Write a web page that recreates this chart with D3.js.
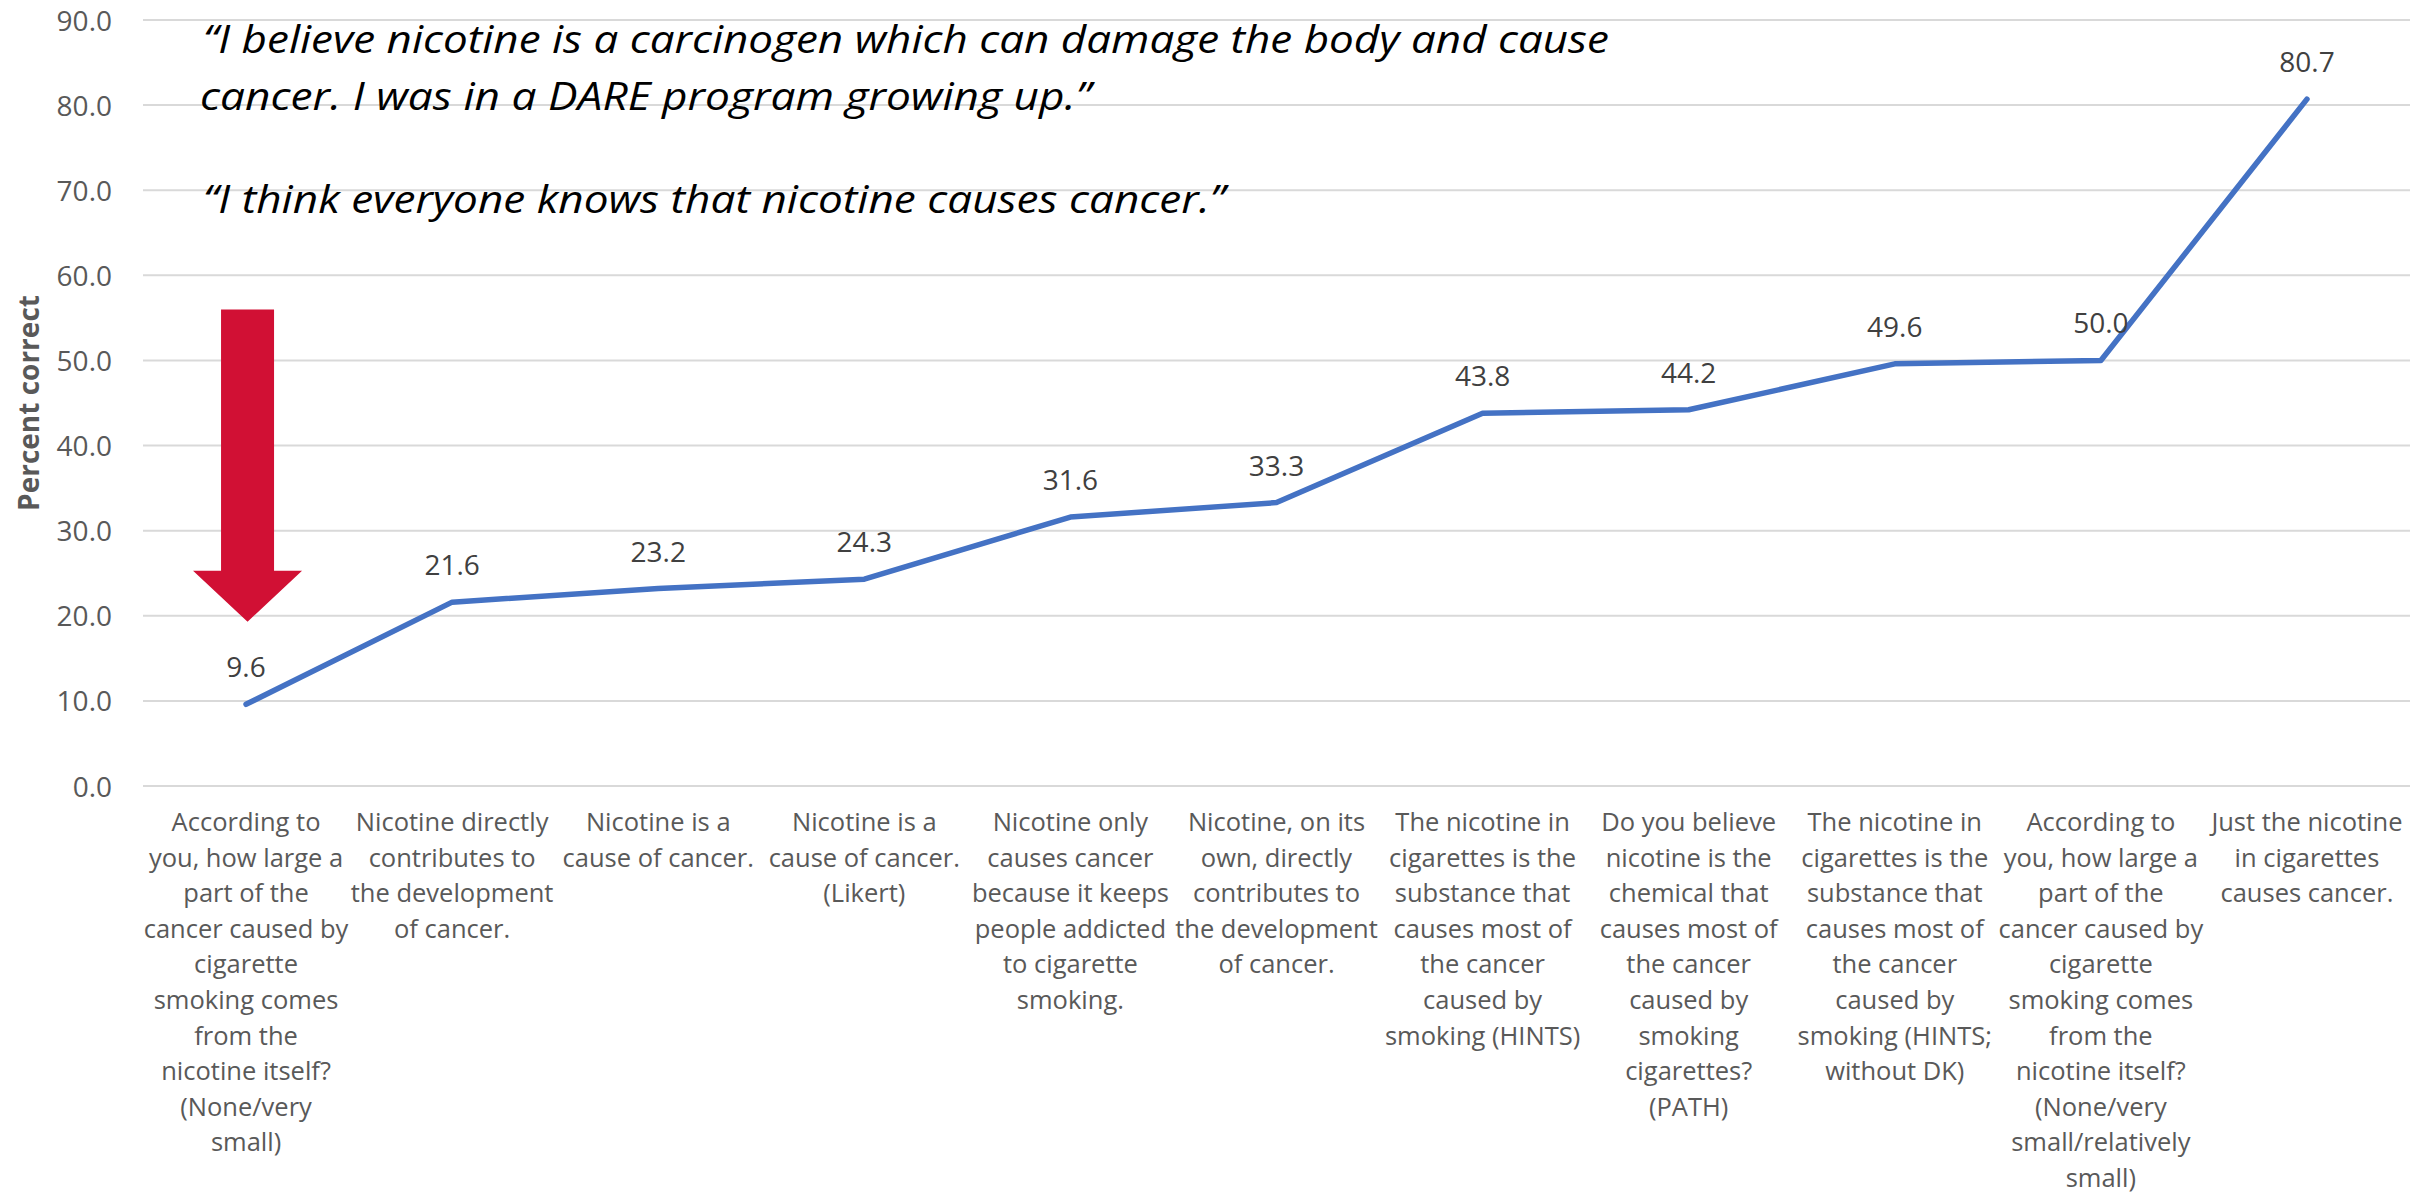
<!DOCTYPE html>
<html>
<head>
<meta charset="utf-8">
<script src="https://cdn.jsdelivr.net/npm/d3@7"></script>
<style>
  html, body { margin: 0; padding: 0; background: #ffffff; }
  svg { display: block; }
</style>
</head>
<body>
<svg id="chart" width="2432" height="1196"></svg>
<script>
// Survey items (wrapped as printed under the axis)
const categories = [
  ["According to", "you, how large a", "part of the", "cancer caused by", "cigarette", "smoking comes", "from the", "nicotine itself?", "(None/very", "small)"],
  ["Nicotine directly", "contributes to", "the development", "of cancer."],
  ["Nicotine is a", "cause of cancer."],
  ["Nicotine is a", "cause of cancer.", "(Likert)"],
  ["Nicotine only", "causes cancer", "because it keeps", "people addicted", "to cigarette", "smoking."],
  ["Nicotine, on its", "own, directly", "contributes to", "the development", "of cancer."],
  ["The nicotine in", "cigarettes is the", "substance that", "causes most of", "the cancer", "caused by", "smoking (HINTS)"],
  ["Do you believe", "nicotine is the", "chemical that", "causes most of", "the cancer", "caused by", "smoking", "cigarettes?", "(PATH)"],
  ["The nicotine in", "cigarettes is the", "substance that", "causes most of", "the cancer", "caused by", "smoking (HINTS;", "without DK)"],
  ["According to", "you, how large a", "part of the", "cancer caused by", "cigarette", "smoking comes", "from the", "nicotine itself?", "(None/very", "small/relatively", "small)"],
  ["Just the nicotine", "in cigarettes", "causes cancer."]
];

// Percent correct for each item
const percentCorrect = [9.6, 21.6, 23.2, 24.3, 31.6, 33.3, 43.8, 44.2, 49.6, 50.0, 80.7];

// Y axis ticks
const yTicks = [0, 10, 20, 30, 40, 50, 60, 70, 80, 90];

// Respondent quotes shown over the chart
const quoteLines = [
  "\u201CI believe nicotine is a carcinogen which can damage the body and cause",
  "cancer. I was in a DARE program growing up.\u201D",
  "\u201CI think everyone knows that nicotine causes cancer.\u201D"
];

const svg = d3.select("#chart");
const plotLeft = 143, plotRight = 2410, plotTop = 20, plotBottom = 786;

const x = d3.scalePoint()
  .domain(d3.range(categories.length))
  .range([plotLeft, plotRight])
  .padding(0.5);

const y = d3.scaleLinear()
  .domain([0, 90])
  .range([plotBottom, plotTop]);

// Gridlines
svg.append("g")
  .selectAll("line")
  .data(yTicks)
  .join("line")
  .attr("x1", plotLeft).attr("x2", plotRight)
  .attr("y1", d => y(d)).attr("y2", d => y(d))
  .attr("stroke", "#d9d9d9")
  .attr("stroke-width", 2);

// Y axis tick labels
const yAxis = d3.axisLeft(y)
  .tickValues(yTicks)
  .tickFormat(d3.format(".1f"))
  .tickSize(0)
  .tickPadding(0);

svg.append("g")
  .attr("transform", `translate(112,0)`)
  .call(yAxis)
  .call(g => g.select(".domain").remove())
  .call(g => g.selectAll("text")
    .attr("font-family", "'Open Sans', sans-serif")
    .attr("font-size", 28)
    .attr("fill", "#595959")
    .attr("dy", "0.36em"));

// Y axis title
svg.append("text")
  .attr("transform", `translate(39,${(y(0) + y(90)) / 2}) rotate(-90)`)
  .attr("text-anchor", "middle")
  .attr("font-family", "'Open Sans', sans-serif")
  .attr("font-weight", "bold")
  .attr("font-size", 28)
  .attr("fill", "#595959")
  .text("Percent correct");

// Category labels
const catG = svg.append("g")
  .attr("font-family", "'Open Sans', sans-serif")
  .attr("font-size", 25.5)
  .attr("fill", "#595959")
  .attr("text-anchor", "middle");

catG.selectAll("text")
  .data(categories)
  .join("text")
  .attr("x", (d, i) => x(i))
  .attr("y", 831)
  .selectAll("tspan")
  .data(d => d)
  .join("tspan")
  .attr("x", function () { return d3.select(this.parentNode).attr("x"); })
  .attr("dy", (d, i) => i === 0 ? 0 : 35.6)
  .text(d => d);

// Series line
const line = d3.line()
  .x((d, i) => x(i))
  .y(d => y(d));

svg.append("path")
  .datum(percentCorrect)
  .attr("d", line)
  .attr("fill", "none")
  .attr("stroke", "#4472c4")
  .attr("stroke-width", 5.5)
  .attr("stroke-linejoin", "round")
  .attr("stroke-linecap", "round");

// Data labels
svg.append("g")
  .attr("font-family", "'Open Sans', sans-serif")
  .attr("font-size", 28)
  .attr("fill", "#404040")
  .attr("text-anchor", "middle")
  .selectAll("text")
  .data(percentCorrect)
  .join("text")
  .attr("x", (d, i) => x(i))
  .attr("y", d => y(d) - 27)
  .text(d => d3.format(".1f")(d));

// Downward arrow pointing at the first item
const ax = x(0) + 1.5;
const shaftHalf = 26.5, headHalf = 54.5;
const yArrowTop = y(56.0), yArrowHead = y(25.3), yArrowTip = y(19.3);
svg.append("path")
  .attr("d", [
    `M${ax - shaftHalf},${yArrowTop}`,
    `L${ax + shaftHalf},${yArrowTop}`,
    `L${ax + shaftHalf},${yArrowHead}`,
    `L${ax + headHalf},${yArrowHead}`,
    `L${ax},${yArrowTip}`,
    `L${ax - headHalf},${yArrowHead}`,
    `L${ax - shaftHalf},${yArrowHead}`,
    "Z"
  ].join(""))
  .attr("fill", "#d11034");

// Quotes
const quoteBaselines = [53, 110, 213];
const quoteStarts = [203, 200, 203];
const quoteWidths = [1406, 891, 1022];
svg.append("g")
  .attr("font-family", "'Open Sans', sans-serif")
  .attr("font-style", "italic")
  .attr("font-size", 39)
  .attr("fill", "#000000")
  .selectAll("text")
  .data(quoteLines)
  .join("text")
  .attr("x", (d, i) => quoteStarts[i])
  .attr("y", (d, i) => quoteBaselines[i])
  .attr("textLength", (d, i) => quoteWidths[i])
  .attr("lengthAdjust", "spacingAndGlyphs")
  .text(d => d);
</script>
</body>
</html>
